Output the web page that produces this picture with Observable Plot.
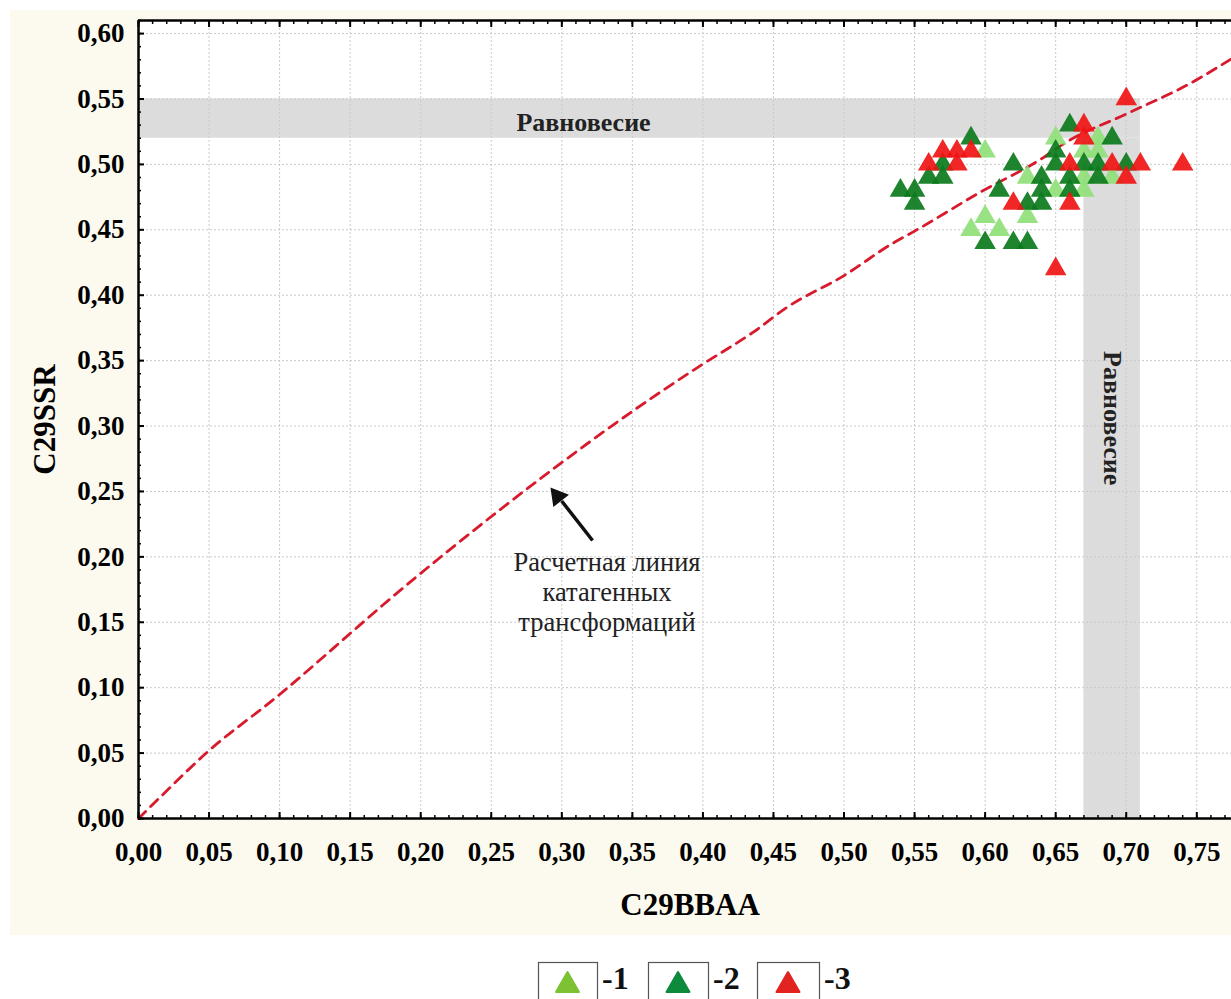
<!DOCTYPE html>
<html><head><meta charset="utf-8">
<script src="https://cdn.jsdelivr.net/npm/d3@7"></script>
<script src="https://cdn.jsdelivr.net/npm/@observablehq/plot@0.6"></script>
<style>
html,body{margin:0;padding:0;background:#fff;overflow:hidden;}
#wrap{position:relative;width:1231px;height:999px;}
#panel{position:absolute;left:10px;top:10px;width:1221px;height:925px;background:#fcf9ee;}
#chart{position:absolute;left:0;top:0;}
#legend{position:absolute;left:0;top:950px;}
</style>
</head><body>
<div id="wrap"><div id="panel"></div><div id="chart"></div><svg id="legend" width="1231" height="49"></svg></div>
<script>
// ---- data ----
const xTicks = [0, 0.05, 0.10, 0.15, 0.20, 0.25, 0.30, 0.35, 0.40, 0.45, 0.50, 0.55, 0.60, 0.65, 0.70, 0.75];
const yTicks = [0, 0.05, 0.10, 0.15, 0.20, 0.25, 0.30, 0.35, 0.40, 0.45, 0.50, 0.55, 0.60];
const xMinorTicks = d3.range(0, 78).map(i => i / 100);
const yMinorTicks = d3.range(0, 62).map(i => i / 100);

// calculated catagenic transformation line
const lineX = [0, 0.016, 0.049, 0.098, 0.157, 0.173, 0.22, 0.29, 0.351, 0.398, 0.436, 0.46, 0.50, 0.535, 0.55, 0.597, 0.641, 0.656, 0.701, 0.7455, 0.775];
const lineY = [0, 0.017, 0.051, 0.093, 0.148, 0.163, 0.205, 0.264, 0.312, 0.346, 0.372, 0.391, 0.415, 0.44, 0.449, 0.479, 0.505, 0.516, 0.539, 0.562, 0.581];

// group 1 (light green)
const g1x = [0.60, 0.59, 0.60, 0.61, 0.65, 0.68, 0.68, 0.67, 0.63, 0.67, 0.69, 0.65, 0.67, 0.63];
const g1y = [0.51, 0.45, 0.46, 0.45, 0.52, 0.52, 0.51, 0.51, 0.49, 0.49, 0.49, 0.48, 0.48, 0.46];
// group 2 (dark green)
const g2x = [0.59, 0.57, 0.56, 0.57, 0.54, 0.55, 0.55, 0.60, 0.61, 0.62, 0.66, 0.69, 0.65, 0.65, 0.67, 0.68, 0.70, 0.64, 0.66, 0.68, 0.64, 0.66, 0.63, 0.64, 0.62, 0.63];
const g2y = [0.52, 0.50, 0.49, 0.49, 0.48, 0.48, 0.47, 0.44, 0.48, 0.50, 0.53, 0.52, 0.51, 0.50, 0.50, 0.50, 0.50, 0.49, 0.49, 0.49, 0.48, 0.48, 0.47, 0.47, 0.44, 0.44];
// group 3 (red)
const g3x = [0.70, 0.67, 0.67, 0.57, 0.58, 0.59, 0.56, 0.58, 0.66, 0.69, 0.71, 0.74, 0.70, 0.62, 0.66, 0.65];
const g3y = [0.55, 0.53, 0.52, 0.51, 0.51, 0.51, 0.50, 0.50, 0.50, 0.50, 0.50, 0.50, 0.49, 0.47, 0.47, 0.42];

// equilibrium zones
const bandX1 = [0, 0.67], bandX2 = [0.71, 0.71], bandY1 = [0.52, 0], bandY2 = [0.55, 0.52];

const legendLabels = ["-1", "-2", "-3"];
const groupColors = ["#8fe07a", "#0b7a1c", "#f01414"];
const legendColors = ["#7cc232", "#0d8a3c", "#e12420"];

const bandLabel = "Равновесие";
const noteText = "Расчетная линия\nкатагенных\nтрансформаций";
const xTitle = "C29BBAA", yTitle = "C29SSR";

// ---- build ----
const pts = (xs, ys) => xs.map((x, i) => ({x, y: ys[i]}));
const curve = pts(lineX, lineY);
const bands = bandX1.map((d, i) => ({x1: d, x2: bandX2[i], y1: bandY1[i], y2: bandY2[i]}));
const fmt = d => d.toFixed(2).replace(".", ",");
const serif = "'Liberation Serif', 'Times New Roman', serif";

const tri = (data, color) => Plot.dot(data, {x: "x", y: "y", symbol: "triangle", r: 8, fill: color, fillOpacity: 0.92, stroke: "none"});

const chart = Plot.plot({
  width: 1231, height: 935,
  marginLeft: 138, marginRight: 0, marginTop: 20, marginBottom: 117,
  style: {background: "transparent", fontFamily: serif, color: "black", overflow: "visible"},
  x: {domain: [0, 0.7746]},
  y: {domain: [0, 0.61]},
  marks: [
    Plot.frame({fill: "white", stroke: "none"}),
    Plot.rect(bands, {x1: "x1", x2: "x2", y1: "y1", y2: "y2", fill: "#dcdcdc"}),
    Plot.gridX(xTicks, {stroke: "#c9c9c9", strokeOpacity: 1, strokeDasharray: "2,2"}),
    Plot.gridY(yTicks, {stroke: "#c9c9c9", strokeOpacity: 1, strokeDasharray: "2,2"}),
    Plot.line(curve, {x: "x", y: "y", stroke: "#d81b2c", strokeWidth: 2.8, strokeDasharray: "10,7", curve: "monotone-x"}),
    tri(pts(g1x, g1y), groupColors[0]),
    tri(pts(g2x, g2y), groupColors[1]),
    tri(pts(g3x, g3y), groupColors[2]),
    Plot.text([bandLabel], {x: 0.3154, y: 0.532, text: d => d, fontSize: 26, fontWeight: "bold", fill: "#222"}),
    Plot.text([bandLabel], {x: 0.6903, y: 0.306, text: d => d, rotate: 90, fontSize: 26, fontWeight: "bold", fill: "#222"}),
    Plot.text([noteText], {x: 0.332, y: 0.1735, text: d => d, fontSize: 26.5, lineHeight: 1.13, fill: "#222"}),
    Plot.link([{x1: 0.3218, y1: 0.2125, x2: 0.2999, y2: 0.2427}], {x1: "x1", y1: "y1", x2: "x2", y2: "y2", stroke: "#111", strokeWidth: 3.5}),
    Plot.dot([{x: 0.2970, y: 0.2462}], {x: "x", y: "y", symbol: "triangle", r: 7.4, rotate: -38.4, fill: "#111"}),
    Plot.ruleX([0], {stroke: "black", strokeWidth: 2.5}),
    Plot.ruleY([0, 0.61], {stroke: "black", strokeWidth: 2.5}),
    Plot.axisX(xMinorTicks, {anchor: "bottom", tickSize: -3, strokeWidth: 1.5, fill: "none", label: null}),
    Plot.axisX(xTicks, {anchor: "bottom", tickSize: -6, strokeWidth: 2, fill: "none", label: null}),
    Plot.axisX(xMinorTicks, {anchor: "top", tickSize: -3, strokeWidth: 1.5, fill: "none", label: null}),
    Plot.axisX(xTicks, {anchor: "top", tickSize: -6, strokeWidth: 2, fill: "none", label: null}),
    Plot.axisY(yMinorTicks, {anchor: "left", tickSize: -3, strokeWidth: 1.5, fill: "none", label: null}),
    Plot.axisY(yTicks, {anchor: "left", tickSize: -6, strokeWidth: 2, fill: "none", label: null}),
    Plot.axisX(xTicks, {anchor: "bottom", tickSize: 0, tickPadding: 23, tickFormat: fmt, fontSize: 27, fontWeight: "bold", label: null}),
    Plot.axisY(yTicks, {anchor: "left", tickSize: 0, tickPadding: 14, tickFormat: fmt, fontSize: 27, fontWeight: "bold", label: null}),
    Plot.text([xTitle], {frameAnchor: "bottom", dx: 5, dy: 87, text: d => d, fontSize: 31, fontWeight: "bold", lineAnchor: "middle", textAnchor: "middle"}),
    Plot.text([yTitle], {frameAnchor: "left", dx: -93, text: d => d, rotate: -90, fontSize: 31, fontWeight: "bold", lineAnchor: "middle", textAnchor: "middle"})
  ]
});
document.getElementById("chart").appendChild(chart);

// ---- legend ----
const lg = d3.select("#legend");
const boxLeft = [538, 648, 757], boxW = [59, 60, 62];
legendLabels.forEach((lab, i) => {
  lg.append("rect").attr("x", boxLeft[i] + 0.5).attr("y", 12.5).attr("width", boxW[i]).attr("height", 50)
    .attr("fill", "white").attr("stroke", "#555").attr("stroke-width", 1.2);
  const cx = boxLeft[i] + boxW[i] / 2;
  lg.append("path").attr("d", `M${cx},${22} L${cx + 11.5},${42} L${cx - 11.5},${42} Z`)
    .attr("fill", legendColors[i]).attr("stroke", legendColors[i]).attr("stroke-width", 2).attr("stroke-linejoin", "round");
  lg.append("text").attr("x", boxLeft[i] + boxW[i] + 5).attr("y", 39)
    .attr("font-family", serif).attr("font-weight", "bold").attr("font-size", 32).attr("fill", "#111").text(lab);
});
</script>
</body></html>
